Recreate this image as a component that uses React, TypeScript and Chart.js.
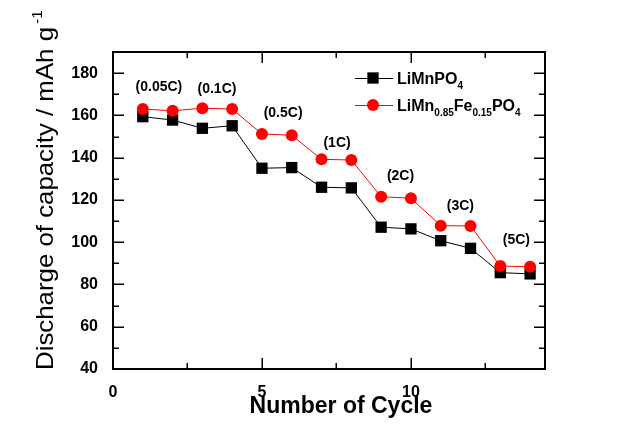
import React, { useEffect, useRef } from "react";
import { Chart, registerables } from "chart.js";

Chart.register(...registerables);

const cycles = [1, 2, 3, 4, 5, 6, 7, 8, 9, 10, 11, 12, 13, 14];
const limnpo4 = [159.4, 157.8, 153.9, 155.1, 135.0, 135.3, 126.0, 125.7, 107.1, 106.3, 100.7, 97.1, 85.6, 85.0];
const limnfepo4 = [163.0, 162.2, 163.4, 163.0, 151.2, 150.6, 139.2, 138.9, 121.5, 120.8, 107.8, 107.7, 88.7, 88.4];

const rateLabels = ["(0.05C)", "(0.1C)", "(0.5C)", "(1C)", "(2C)", "(3C)", "(5C)"];
const rateLabelX = [1.54, 3.49, 5.71, 7.52, 9.65, 11.66, 13.54];
const rateLabelY = [173.5, 172.5, 161.2, 147.0, 131.3, 117.1, 100.8];

const xMajorTicks = [0, 5, 10];
const xMinorTicks = [2.5, 7.5, 12.5];
const yMajorTicks = [40, 60, 80, 100, 120, 140, 160, 180];
const yMinorTicks = [50, 70, 90, 110, 130, 150, 170];

const xTitle = "Number of Cycle";
const yTitle = "Discharge of capacity / mAh g";
const yTitleSup = "-1";

const FONT = '"Liberation Sans", Arial, sans-serif';

type Seg = { t: string; sub?: boolean };
const legendRows: Seg[][] = [
  [{ t: "LiMnPO" }, { t: "4", sub: true }],
  [{ t: "LiMn" }, { t: "0.85", sub: true }, { t: "Fe" }, { t: "0.15", sub: true }, { t: "PO" }, { t: "4", sub: true }],
];

const decorPlugin = {
  id: "decor",
  afterDraw(chart: any) {
    const ctx: CanvasRenderingContext2D = chart.ctx;
    const xs = chart.scales.x;
    const ys = chart.scales.y;
    const { left, right, top, bottom } = chart.chartArea;
    ctx.save();
    // frame
    ctx.strokeStyle = "#000";
    ctx.lineWidth = 2;
    ctx.strokeRect(left, top, right - left, bottom - top);
    // ticks
    ctx.lineWidth = 1.5;
    ctx.beginPath();
    const xt = (vals: number[], len: number) => {
      vals.forEach((v) => {
        const px = Math.round(xs.getPixelForValue(v)) + 0.25;
        ctx.moveTo(px, bottom);
        ctx.lineTo(px, bottom - len);
        ctx.moveTo(px, top);
        ctx.lineTo(px, top + len);
      });
    };
    const yt = (vals: number[], len: number) => {
      vals.forEach((v) => {
        const py = Math.round(ys.getPixelForValue(v)) + 0.25;
        ctx.moveTo(left, py);
        ctx.lineTo(left + len, py);
        ctx.moveTo(right, py);
        ctx.lineTo(right - len, py);
      });
    };
    xt(xMajorTicks, 11);
    xt(xMinorTicks, 6);
    yt(yMajorTicks, 11);
    yt(yMinorTicks, 6);
    ctx.stroke();

    // rate labels
    ctx.fillStyle = "#000";
    ctx.font = `bold 14px ${FONT}`;
    ctx.textAlign = "center";
    ctx.textBaseline = "middle";
    rateLabels.forEach((l, i) => {
      ctx.fillText(l, xs.getPixelForValue(rateLabelX[i]), ys.getPixelForValue(rateLabelY[i]));
    });

    // x title
    ctx.font = `bold 23px ${FONT}`;
    ctx.textAlign = "center";
    ctx.textBaseline = "alphabetic";
    ctx.fillText(xTitle, 341, 413);

    // y title
    ctx.save();
    ctx.translate(53, 370);
    ctx.rotate(-Math.PI / 2);
    ctx.font = `24px ${FONT}`;
    const w1 = ctx.measureText(yTitle).width;
    const sx = 343 / w1;
    ctx.scale(sx, 1);
    ctx.textAlign = "left";
    ctx.fillText(yTitle, 0, 0);
    ctx.font = `14px ${FONT}`;
    ctx.fillText(yTitleSup, w1 + 3, -11);
    ctx.restore();

    // legend
    const datasets = chart.data.datasets;
    const rowY = [78, 105];
    [0, 1].forEach((r) => {
      const ds = datasets[r];
      const y = rowY[r];
      ctx.strokeStyle = ds.borderColor;
      ctx.lineWidth = 1;
      ctx.beginPath();
      ctx.moveTo(355, y + 0.5);
      ctx.lineTo(393, y + 0.5);
      ctx.stroke();
      ctx.fillStyle = ds.backgroundColor;
      if (ds.pointStyle === "rect") {
        const s = ds.pointRadius * Math.SQRT1_2;
        ctx.fillRect(373 - s, y - s, 2 * s, 2 * s);
      } else {
        ctx.beginPath();
        ctx.arc(373, y, ds.pointRadius, 0, Math.PI * 2);
        ctx.fill();
      }
      ctx.fillStyle = "#000";
      ctx.textAlign = "left";
      ctx.textBaseline = "alphabetic";
      let x = 397;
      const base = y + 6;
      legendRows[r].forEach((seg) => {
        ctx.font = seg.sub ? `bold 10px ${FONT}` : `bold 16px ${FONT}`;
        ctx.fillText(seg.t, x, seg.sub ? base + 5 : base);
        x += ctx.measureText(seg.t).width;
      });
    });
    ctx.restore();
  },
};

export default function App() {
  const ref = useRef<HTMLCanvasElement | null>(null);
  useEffect(() => {
    document.body.style.margin = "0";
    const canvas = ref.current!;
    const tickFont = { family: FONT, size: 16, weight: "bold" as const };
    const chart = new Chart(canvas, {
      type: "scatter",
      data: {
        datasets: [
          {
            label: "LiMnPO4",
            data: cycles.map((c, i) => ({ x: c, y: limnpo4[i] })),
            borderColor: "#000000",
            backgroundColor: "#000000",
            pointBorderColor: "#000000",
            pointBackgroundColor: "#000000",
            pointStyle: "rect",
            pointRadius: 8,
            pointBorderWidth: 0,
            borderWidth: 1,
            showLine: true,
            order: 1,
          },
          {
            label: "LiMn0.85Fe0.15PO4",
            data: cycles.map((c, i) => ({ x: c, y: limnfepo4[i] })),
            borderColor: "#ff0000",
            backgroundColor: "#ff0000",
            pointBorderColor: "#ff0000",
            pointBackgroundColor: "#ff0000",
            pointStyle: "circle",
            pointRadius: 6,
            pointBorderWidth: 0,
            borderWidth: 1,
            showLine: true,
            order: 0,
          },
        ] as any,
      },
      options: {
        responsive: false,
        animation: false,
        devicePixelRatio: 1,
        layout: { padding: { left: 0, right: 88, top: 52, bottom: 0 } },
        plugins: { legend: { display: false }, tooltip: { enabled: false }, title: { display: false } },
        scales: {
          x: {
            type: "linear",
            min: 0,
            max: 14.5,
            ticks: {
              stepSize: 5,
              autoSkip: false,
              maxRotation: 0,
              color: "#000",
              font: tickFont,
              padding: 14,
              callback: (v: any) => (xMajorTicks.includes(Number(v)) ? String(v) : null),
            },
            grid: { display: false, drawTicks: false },
            border: { display: false },
            afterFit: (s: any) => {
              s.height = 73;
            },
          },
          y: {
            type: "linear",
            min: 40,
            max: 190,
            ticks: {
              stepSize: 20,
              autoSkip: false,
              color: "#000",
              font: tickFont,
              padding: 15,
              callback: (v: any) => (yMajorTicks.includes(Number(v)) ? String(v) : null),
            },
            grid: { display: false, drawTicks: false },
            border: { display: false },
            afterFit: (s: any) => {
              s.width = 113;
            },
          },
        },
      } as any,
      plugins: [decorPlugin],
    });
    return () => chart.destroy();
  }, []);
  return (
    <div style={{ position: "fixed", left: 0, top: 0, width: 633, height: 442, background: "#fff" }}>
      <canvas ref={ref} width={633} height={442} style={{ width: 633, height: 442, display: "block" }} />
    </div>
  );
}
